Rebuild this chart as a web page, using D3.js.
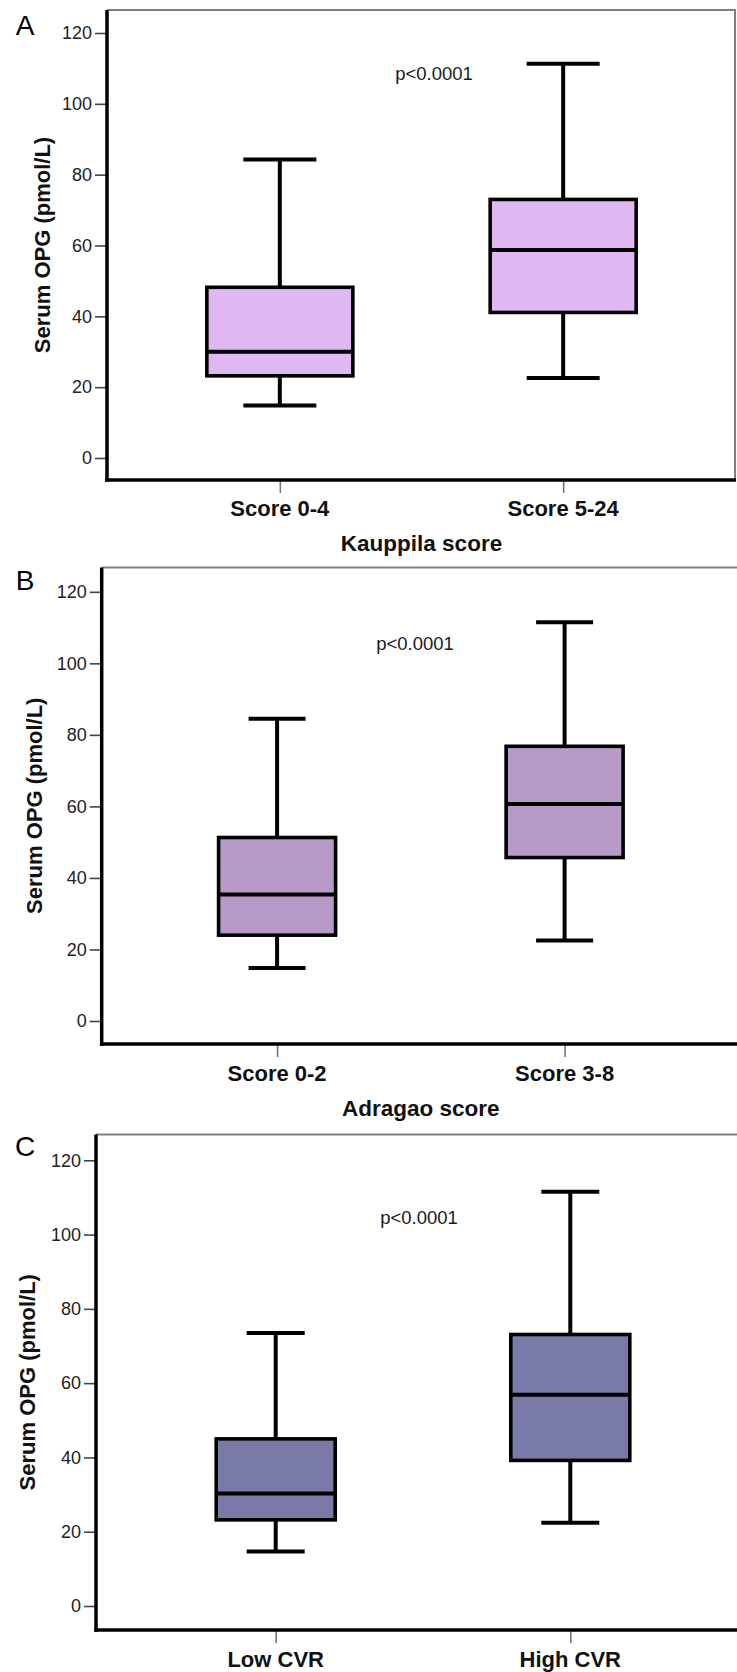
<!DOCTYPE html>
<html><head><meta charset="utf-8">
<script src="https://cdn.jsdelivr.net/npm/d3@7"></script>
<style>html,body{margin:0;padding:0;background:#fff;} svg{display:block;}</style>
</head><body>
<script>
// ---- data ----
const panelLetters = ["A", "B", "C"];
const categoriesA = ["Score 0-4", "Score 5-24"];
const categoriesB = ["Score 0-2", "Score 3-8"];
const categoriesC = ["Low CVR", "High CVR"];
const xTitles = ["Kauppila score", "Adragao score", ""];
const whiskerLow  = [[14.8, 22.6], [14.8, 22.5], [14.7, 22.4]];
const quartile1   = [[23.2, 41.1], [24.0, 45.7], [23.2, 39.2]];
const medians     = [[30.0, 58.7], [35.4, 60.7], [30.3, 56.9]];
const quartile3   = [[48.2, 73.0], [51.3, 76.8], [45.0, 73.1]];
const whiskerHigh = [[84.3, 111.3], [84.5, 111.5], [73.5, 111.5]];
const yTicks = [0, 20, 40, 60, 80, 100, 120];
const yTitle = "Serum OPG (pmol/L)";
const pLabel = "p<0.0001";
const fills = ["#dfb8f2", "#b89ac8", "#7a7aa8"];
const categories = [categoriesA, categoriesB, categoriesC];

// ---- layout (positions only) ----
const layout = [
  {left:107,   right:736, top:10,     bottom:480,  y0:458,  y120:33,     boxW:146, capW:73, letterY:25,   catY:508,  titleY:543,  yTitleX:42,   pX:434, pY:73.5},
  {left:101.7, right:740, top:567.5,  bottom:1044, y0:1021, y120:591.8,  boxW:117, capW:57, letterY:580,  catY:1073, titleY:1108, yTitleX:34,   pX:415, pY:643.6},
  {left:96,    right:750, top:1134.5, bottom:1630, y0:1606, y120:1160.3, boxW:119, capW:58, letterY:1146, catY:1659, titleY:null, yTitleX:27.5, pX:419, pY:1217}
];

const W = 737, H = 1672;
const FONT = "'Liberation Sans', Arial, Helvetica, sans-serif";
const svg = d3.select("body").append("svg").attr("width", W).attr("height", H)
  .style("font-family", FONT);

layout.forEach((L, pi) => {
  const g = svg.append("g");
  const x = d3.scalePoint().domain(categories[pi]).range([L.left, L.right]).padding(0.61);
  const y = d3.scaleLinear().domain([0, 120]).range([L.y0, L.y120]);

  // frame: top and right thin grey
  g.append("line").attr("x1", L.left).attr("x2", L.right).attr("y1", L.top).attr("y2", L.top)
    .attr("stroke", "#808080").attr("stroke-width", 2);
  g.append("line").attr("x1", L.right - 1).attr("x2", L.right - 1).attr("y1", L.top).attr("y2", L.bottom)
    .attr("stroke", "#808080").attr("stroke-width", 2);

  // y axis
  const yAxis = d3.axisLeft(y).tickValues(yTicks).tickSize(12).tickPadding(3).tickFormat(d3.format("d"));
  const ya = g.append("g").attr("transform", `translate(${L.left},0)`).call(yAxis);
  ya.select(".domain").remove();
  ya.selectAll(".tick line").attr("stroke", "#444").attr("stroke-width", 1.6);
  ya.selectAll(".tick text").attr("fill", "#222").style("font-size", "18px").style("font-family", FONT);

  // x axis
  const xAxis = d3.axisBottom(x).tickSize(13).tickPadding(6);
  const xa = g.append("g").attr("transform", `translate(0,${L.bottom})`).call(xAxis);
  xa.select(".domain").remove();
  xa.selectAll(".tick line").attr("stroke", "#777").attr("stroke-width", 1.6);
  xa.selectAll(".tick text").remove();
  g.selectAll("text.cat").data(categories[pi]).join("text").attr("class", "cat")
    .attr("x", d => x(d)).attr("y", L.catY).attr("text-anchor", "middle")
    .attr("dominant-baseline", "central")
    .style("font-size", "22px").style("font-weight", "bold").attr("fill", "#111").text(d => d);

  // thick left and bottom axis lines
  g.append("line").attr("x1", L.left).attr("x2", L.left).attr("y1", L.top).attr("y2", L.bottom + 1.75)
    .attr("stroke", "#000").attr("stroke-width", 3.5);
  g.append("line").attr("x1", L.left - 1.75).attr("x2", L.right).attr("y1", L.bottom).attr("y2", L.bottom)
    .attr("stroke", "#000").attr("stroke-width", 3.5);

  // boxes
  const idx = d3.range(categories[pi].length);
  const boxes = g.selectAll("g.box").data(idx).join("g").attr("class", "box");
  boxes.append("line").attr("x1", i => x(categories[pi][i])).attr("x2", i => x(categories[pi][i]))
    .attr("y1", i => y(whiskerLow[pi][i])).attr("y2", i => y(quartile1[pi][i]))
    .attr("stroke", "#000").attr("stroke-width", 4);
  boxes.append("line").attr("x1", i => x(categories[pi][i])).attr("x2", i => x(categories[pi][i]))
    .attr("y1", i => y(quartile3[pi][i])).attr("y2", i => y(whiskerHigh[pi][i]))
    .attr("stroke", "#000").attr("stroke-width", 4);
  [whiskerLow, whiskerHigh].forEach(arr => {
    boxes.append("line")
      .attr("x1", i => x(categories[pi][i]) - L.capW / 2).attr("x2", i => x(categories[pi][i]) + L.capW / 2)
      .attr("y1", i => y(arr[pi][i])).attr("y2", i => y(arr[pi][i]))
      .attr("stroke", "#000").attr("stroke-width", 4);
  });
  boxes.append("rect")
    .attr("x", i => x(categories[pi][i]) - L.boxW / 2).attr("width", L.boxW)
    .attr("y", i => y(quartile3[pi][i])).attr("height", i => y(quartile1[pi][i]) - y(quartile3[pi][i]))
    .attr("fill", fills[pi]).attr("stroke", "#000").attr("stroke-width", 3.6);
  boxes.append("line")
    .attr("x1", i => x(categories[pi][i]) - L.boxW / 2).attr("x2", i => x(categories[pi][i]) + L.boxW / 2)
    .attr("y1", i => y(medians[pi][i])).attr("y2", i => y(medians[pi][i]))
    .attr("stroke", "#000").attr("stroke-width", 4);

  // texts
  g.append("text").attr("x", L.pX).attr("y", L.pY).attr("text-anchor", "middle")
    .attr("dominant-baseline", "central").style("font-size", "18.5px").attr("fill", "#1a1a1a").text(pLabel);
  g.append("text").attr("transform", `translate(${L.yTitleX},${(L.top + L.bottom) / 2}) rotate(-90)`)
    .attr("text-anchor", "middle").attr("dominant-baseline", "central")
    .style("font-size", "22px").style("font-weight", "bold").attr("fill", "#111").text(yTitle);
  if (xTitles[pi]) {
    g.append("text").attr("x", (L.left + L.right) / 2).attr("y", L.titleY).attr("text-anchor", "middle")
      .attr("dominant-baseline", "central")
      .style("font-size", "22.5px").style("font-weight", "bold").attr("fill", "#111").text(xTitles[pi]);
  }
  g.append("text").attr("x", 25).attr("y", L.letterY).attr("text-anchor", "middle")
    .attr("dominant-baseline", "central").style("font-size", "28px").attr("fill", "#000").text(panelLetters[pi]);
});
</script>
</body></html>
